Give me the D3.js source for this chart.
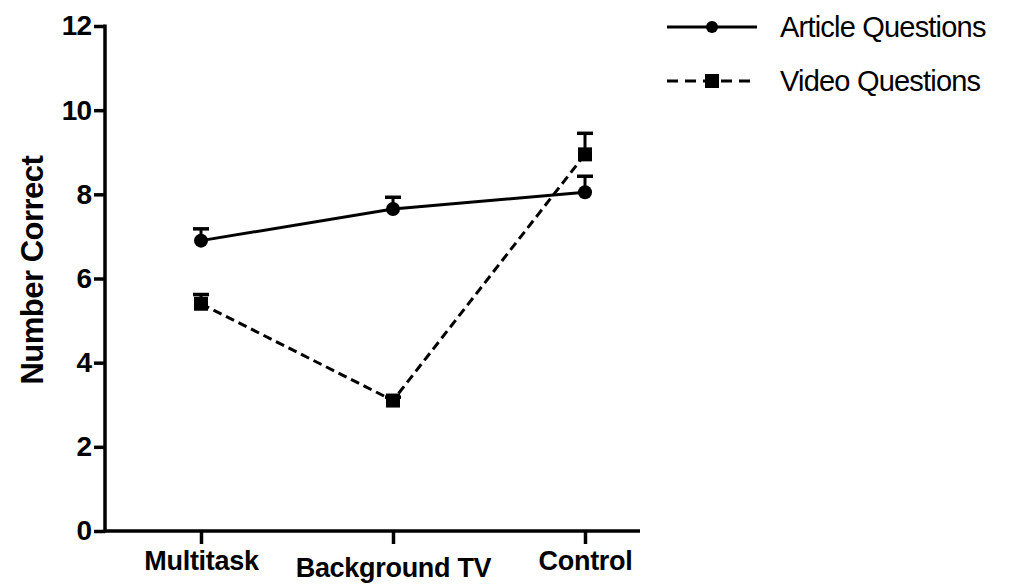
<!DOCTYPE html>
<html>
<head>
<meta charset="utf-8">
<script src="https://cdn.jsdelivr.net/npm/d3@7"></script>
<style>
  body { margin: 0; background: #fff; }
  text { font-family: "Liberation Sans", Arial, sans-serif; fill: #000; }
</style>
</head>
<body>
<script>
// data
var groups = ["Multitask", "Background TV", "Control"];
var articleMean = [6.9, 7.65, 8.05];
var articleErr = [0.28, 0.28, 0.38];
var videoMean = [5.4, 3.1, 8.95];
var videoErr = [0.22, 0.08, 0.5];
var yTicks = [0, 2, 4, 6, 8, 10, 12];
var seriesNames = ["Article Questions", "Video Questions"];

var width = 1025, height = 585;

var svg = d3.select("body").append("svg")
    .attr("width", width)
    .attr("height", height);

var x = d3.scalePoint().domain(groups).range([201, 585]);
var y = d3.scaleLinear().domain([0, 12]).range([531, 26]);

// y axis
var yAxis = svg.append("g")
    .attr("transform", "translate(105,0)")
    .call(d3.axisLeft(y).tickValues(yTicks).tickSize(11).tickPadding(3));
yAxis.select(".domain").remove();
yAxis.append("line")
    .attr("x1", 0).attr("x2", 0)
    .attr("y1", y(12) - 1.5).attr("y2", y(0) + 1.5)
    .attr("stroke", "#000").attr("stroke-width", 3.5);
yAxis.selectAll(".tick line").attr("stroke-width", 3.5);
yAxis.selectAll(".tick text")
    .style("font-size", "28px").style("font-weight", "bold")
    .style("letter-spacing", "-1px");

// x axis
var xAxis = svg.append("g")
    .attr("transform", "translate(0,531)")
    .call(d3.axisBottom(x).tickSize(13));
xAxis.select(".domain").remove();
xAxis.append("line")
    .attr("x1", 105).attr("x2", 640)
    .attr("y1", 0).attr("y2", 0)
    .attr("stroke", "#000").attr("stroke-width", 3.5);
xAxis.selectAll(".tick line").attr("stroke-width", 3.5);
xAxis.selectAll(".tick text")
    .style("font-size", "27px").style("font-weight", "bold")
    .style("letter-spacing", "-0.3px")
    .attr("y", (d, i) => i == 1 ? 46 : 39)
    .attr("dy", 0);

// y label
svg.append("text")
    .attr("transform", "translate(43," + y(6.2) + ") rotate(-90)")
    .attr("text-anchor", "middle")
    .style("font-size", "31px").style("font-weight", "bold")
    .style("letter-spacing", "-0.5px")
    .text("Number Correct");

function drawSeries(means, errs, dash, marker) {
  var pts = groups.map((g, i) => ({g: g, m: means[i], e: errs[i]}));
  var line = d3.line().x(d => x(d.g)).y(d => y(d.m));
  var g = svg.append("g");
  g.append("path")
      .attr("d", line(pts))
      .attr("fill", "none")
      .attr("stroke", "#000")
      .attr("stroke-width", 3)
      .attr("stroke-dasharray", dash);
  // upper error bars
  g.selectAll(".eb").data(pts).join("line")
      .attr("x1", d => x(d.g)).attr("x2", d => x(d.g))
      .attr("y1", d => y(d.m)).attr("y2", d => y(d.m + d.e))
      .attr("stroke", "#000").attr("stroke-width", 3);
  g.selectAll(".cap").data(pts).join("line")
      .attr("x1", d => x(d.g) - 8).attr("x2", d => x(d.g) + 8)
      .attr("y1", d => y(d.m + d.e)).attr("y2", d => y(d.m + d.e))
      .attr("stroke", "#000").attr("stroke-width", 3.5);
  if (marker == "circle") {
    g.selectAll("circle").data(pts).join("circle")
        .attr("cx", d => x(d.g)).attr("cy", d => y(d.m)).attr("r", 7);
  } else {
    g.selectAll("rect").data(pts).join("rect")
        .attr("x", d => x(d.g) - 7).attr("y", d => y(d.m) - 7)
        .attr("width", 14).attr("height", 14);
  }
}

drawSeries(articleMean, articleErr, null, "circle");
drawSeries(videoMean, videoErr, "9,5", "square");

// legend
var legend = svg.append("g");
var legendY = [27, 81];
seriesNames.forEach(function(name, i) {
  var ly = legendY[i];
  legend.append("line")
      .attr("x1", 667).attr("x2", 757)
      .attr("y1", ly).attr("y2", ly)
      .attr("stroke", "#000").attr("stroke-width", 3)
      .attr("stroke-dasharray", i == 1 ? "11,7" : null);
  if (i == 0) {
    legend.append("circle").attr("cx", 712).attr("cy", ly).attr("r", 6);
  } else {
    legend.append("rect").attr("x", 705).attr("y", ly - 7).attr("width", 14).attr("height", 14);
  }
  legend.append("text")
      .attr("x", 780).attr("y", ly)
      .attr("dy", "0.36em")
      .style("font-size", "29px")
      .style("letter-spacing", "-0.8px")
      .text(name);
});
</script>
</body>
</html>
